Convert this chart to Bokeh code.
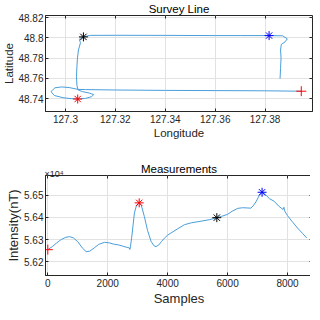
from bokeh.plotting import figure
from bokeh.layouts import column
from bokeh.models import Range1d, FixedTicker, CustomJSTickFormatter, LinearAxis, Label
from bokeh.embed import file_html
from bokeh.resources import INLINE

# ---- Survey line track (longitude, latitude) ----
track_lon = [127.3945, 127.3800, 127.3600, 127.3400, 127.3200, 127.3080, 127.3050, 127.3015,
             127.2985, 127.2958, 127.2942, 127.2955, 127.2990, 127.3025, 127.3049, 127.3080,
             127.3105, 127.3113, 127.3095, 127.3068, 127.3050, 127.3046, 127.3044, 127.3046,
             127.3048, 127.3052, 127.3060, 127.3056, 127.3062, 127.3072, 127.3100, 127.3200,
             127.3400, 127.3600, 127.3700, 127.3816, 127.3870, 127.3889, 127.3880, 127.3865,
             127.3862, 127.3864, 127.3862, 127.3860]
track_lat = [48.7474, 48.7478, 48.7480, 48.7482, 48.7486, 48.7490, 48.7492, 48.7510,
             48.7516, 48.7508, 48.7470, 48.7432, 48.7410, 48.7400, 48.7397, 48.7403,
             48.7420, 48.7440, 48.7456, 48.7470, 48.7488, 48.7530, 48.7620, 48.7720,
             48.7800, 48.7880, 48.7950, 48.7985, 48.8003, 48.8009, 48.8024, 48.8025,
             48.8024, 48.8022, 48.8022, 48.8022, 48.8020, 48.7990, 48.7960, 48.7935,
             48.7880, 48.7800, 48.7700, 48.7597]

# marked points: start (+), then three asterisks
start_lon, start_lat = [127.3945], [48.7474]
red_lon, red_lat = [127.3049], [48.7397]
black_lon, black_lat = [127.3072], [48.8009]
blue_lon, blue_lat = [127.3816], [48.8022]

# ---- Measurements (sample index, intensity nT) ----
samples = [0, 150, 300, 450, 600, 720, 850, 1000, 1150, 1280, 1400, 1550, 1700, 1889, 2050,
           2200, 2350, 2500, 2650, 2720, 2740, 2760, 2800, 2890, 2960, 3050, 3120, 3220, 3330,
           3444, 3540, 3611, 3700, 3800, 3889, 4000, 4278, 4556, 4800, 5111, 5400, 5644, 5800,
           6000, 6150, 6333, 6500, 6650, 6778, 6850, 6944, 7050, 7150, 7250, 7400, 7556, 7700,
           7850, 7880, 7900, 8000, 8150, 8333, 8500, 8640]
intensity = [56254, 56268, 56285, 56300, 56310, 56313, 56308, 56290, 56262, 56245, 56247, 56262,
             56278, 56287, 56285, 56279, 56276, 56270, 56264, 56262, 56255, 56270, 56310, 56420,
             56455, 56468, 56455, 56405, 56340, 56292, 56272, 56268, 56275, 56292, 56306, 56320,
             56344, 56367, 56376, 56383, 56390, 56399, 56405, 56414, 56428, 56441, 56444, 56443,
             56442, 56452, 56470, 56498, 56515, 56505, 56485, 56473, 56452, 56436, 56446, 56430,
             56408, 56382, 56352, 56328, 56307]

m_start_x, m_start_y = [0], [56254]
m_red_x, m_red_y = [3050], [56466]
m_black_x, m_black_y = [5640], [56399]
m_blue_x, m_blue_y = [7150], [56514]

lon_ticks = [127.30, 127.32, 127.34, 127.36, 127.38]
lat_ticks = [48.74, 48.76, 48.78, 48.80, 48.82]
sample_ticks = [0, 2000, 4000, 6000, 8000]
int_ticks = [56200, 56300, 56400, 56500]

FONT = "Liberation Sans"
TXT = "#262626"
LINE = "#4a9edb"

fmt_blank = CustomJSTickFormatter(code="return '';")


def style(p, xt, yt, xfmt, yfmt, label_size):
    p.outline_line_color = TXT
    p.outline_line_width = 1
    p.background_fill_color = "white"
    p.border_fill_color = "white"
    p.title.text_font = FONT
    p.title.text_font_size = "11.5px"
    p.title.text_font_style = "normal"
    p.title.text_color = "#000000"
    p.title.align = "center"
    p.title.standoff = 1
    p.xaxis.ticker = FixedTicker(ticks=xt)
    p.yaxis.ticker = FixedTicker(ticks=yt)
    if xfmt is not None:
        p.xaxis.formatter = xfmt
    if yfmt is not None:
        p.yaxis.formatter = yfmt
    for ax in p.axis:
        ax.major_tick_in = 3
        ax.major_tick_out = 0
        ax.minor_tick_line_color = None
        ax.axis_line_color = TXT
        ax.major_tick_line_color = TXT
        ax.major_label_text_font = FONT
        ax.major_label_text_font_size = "10px"
        ax.major_label_text_color = TXT
        ax.axis_label_text_font = FONT
        ax.axis_label_text_font_size = label_size
        ax.axis_label_text_font_style = "normal"
        ax.axis_label_text_color = TXT
    p.xaxis.major_label_standoff = 3
    p.xaxis.axis_label_standoff = 1
    p.yaxis.major_label_standoff = 2
    p.yaxis.axis_label_standoff = 0
    p.xgrid.grid_line_color = "#e2e2e2"
    p.ygrid.grid_line_color = "#e2e2e2"
    # tick marks on the right and top edges of the box
    r = LinearAxis(ticker=FixedTicker(ticks=yt), formatter=fmt_blank,
                   fixed_location=p.x_range.end, major_tick_in=3, major_tick_out=0,
                   minor_tick_line_color=None, axis_line_color=None, major_tick_line_color=TXT)
    p.add_layout(r, "right")
    t = LinearAxis(ticker=FixedTicker(ticks=xt), formatter=fmt_blank,
                   fixed_location=p.y_range.end, major_tick_in=3, major_tick_out=0,
                   minor_tick_line_color=None, axis_line_color=None, major_tick_line_color=TXT)
    p.add_layout(t, "above")


fmt_plain = CustomJSTickFormatter(code="return String(Number(tick.toFixed(4)));")
fmt_e4 = CustomJSTickFormatter(code="return (tick/1e4).toFixed(2);")

# ---- Top: survey line ----
p1 = figure(frame_width=267, frame_height=96, output_backend="svg", toolbar_location=None,
            x_range=Range1d(127.292, 127.399), y_range=Range1d(48.7274, 48.822),
            title="Survey Line", min_border_left=40, min_border_right=1,
            min_border_top=11, min_border_bottom=34)
p1.line(track_lon, track_lat, line_color=LINE, line_width=1)
p1.scatter(start_lon, start_lat, marker="cross", size=10, line_color="#ff0000", line_width=1)
p1.scatter(red_lon, red_lat, marker="asterisk", size=9, line_color="#ff0000", line_width=1)
p1.scatter(black_lon, black_lat, marker="asterisk", size=9, line_color="#000000", line_width=1)
p1.scatter(blue_lon, blue_lat, marker="asterisk", size=9, line_color="#0000ff", line_width=1)
p1.xaxis[0].axis_label = "Longitude"
p1.yaxis[0].axis_label = "Latitude"
style(p1, lon_ticks, lat_ticks, fmt_plain, fmt_plain, "11.5px")

# ---- Bottom: measurements ----
p2 = figure(frame_width=267, frame_height=100, output_backend="svg", toolbar_location=None,
            x_range=Range1d(-77, 8833), y_range=Range1d(56137, 56590),
            min_border_left=40, min_border_right=1,
            min_border_top=30, min_border_bottom=33)
p2.line(samples, intensity, line_color=LINE, line_width=1)
p2.scatter(m_start_x, m_start_y, marker="cross", size=10, line_color="#ff0000", line_width=1)
p2.scatter(m_red_x, m_red_y, marker="asterisk", size=9, line_color="#ff0000", line_width=1)
p2.scatter(m_black_x, m_black_y, marker="asterisk", size=9, line_color="#000000", line_width=1)
p2.scatter(m_blue_x, m_blue_y, marker="asterisk", size=9, line_color="#0000ff", line_width=1)
p2.xaxis[0].axis_label = "Samples"
p2.yaxis[0].axis_label = "Intensity(nT)"
style(p2, sample_ticks, int_ticks, None, fmt_e4, "13px")
p2.title.visible = False
# title and exponent note placed in the top side panel (not clipped to the frame)
p2.add_layout(Label(x=133.5, y=7, x_units="screen", y_units="screen",
                    text="Measurements", text_font=FONT, text_font_size="11.5px",
                    text_color="#000000", text_align="center",
                    text_baseline="alphabetic"), "above")
p2.add_layout(Label(x=-1, y=-10, x_units="screen", y_units="screen",
                    text="×10⁴", text_font=FONT, text_font_size="9px", text_color=TXT,
                    text_align="left", text_baseline="alphabetic"), "above")

layout = column(p1, p2, spacing=0)
open("out.html", "w").write(file_html(layout, INLINE))
